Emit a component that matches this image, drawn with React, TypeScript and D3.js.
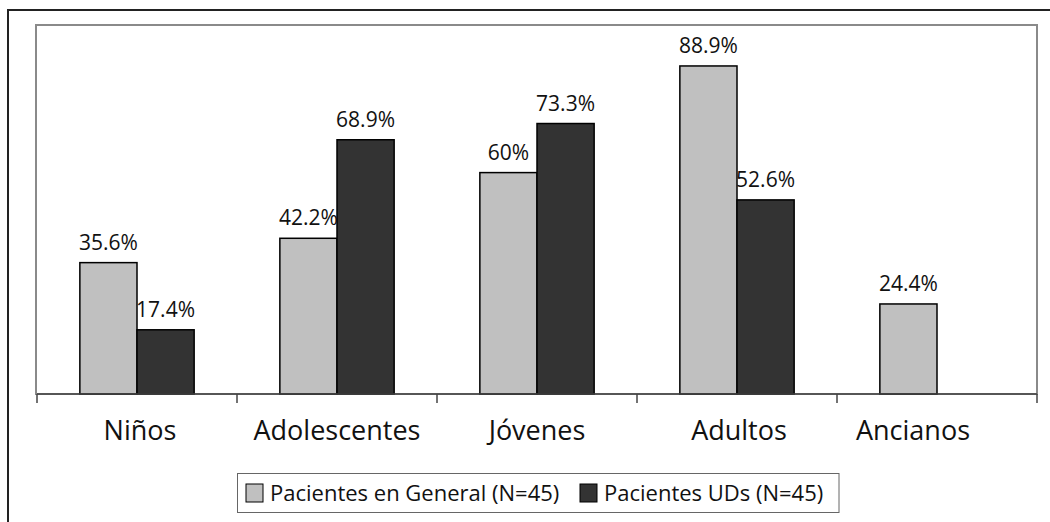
import React from "react";
import * as d3 from "d3";

const categories = ["Niños", "Adolescentes", "Jóvenes", "Adultos", "Ancianos"];
const seriesNames = ["Pacientes en General (N=45)", "Pacientes UDs (N=45)"];
const generalValues: (number | null)[] = [35.6, 42.2, 60, 88.9, 24.4];
const udsValues: (number | null)[] = [17.4, 68.9, 73.3, 52.6, null];
const valueLabels = [
  ["35.6%", "42.2%", "60%", "88.9%", "24.4%"],
  ["17.4%", "68.9%", "73.3%", "52.6%", ""],
];
const seriesColors = ["#c0c0c0", "#333333"];

const W = 1050;
const H = 522;
const plotL = 37;
const plotR = 1037;
const plotT = 25;
const plotB = 394;
const FONT = "'Open Sans', sans-serif";
// horizontal nudge of category labels, as laid out in the reference
const catLabelShift = [3, 0, 0, 2, -24];
const legendItemX = [246, 580];

export default function App() {
  const x = d3.scaleBand<string>().domain(categories).range([plotL, plotR]).paddingInner(0).paddingOuter(0);
  const xi = d3
    .scaleBand<string>()
    .domain(["0", "1"])
    .range([0, x.bandwidth()])
    .paddingInner(0)
    .paddingOuter(0.75);
  const y = d3.scaleLinear().domain([0, 100]).range([plotB, plotT]);
  const series = [generalValues, udsValues];
  const ticks = [...categories.map((c) => x(c)!), plotR];

  return (
    <div style={{ position: "absolute", left: 0, top: 0 }}>
      <svg width={W} height={H} style={{ display: "block", background: "#fff" }}>
        <rect x={8} y={10} width={W + 20} height={H + 20} fill="#fff" stroke="#222" strokeWidth={2} />
        <rect x={plotL - 1} y={plotT} width={plotR - plotL + 1} height={plotB - plotT} fill="#fff" stroke="#8a8a8a" strokeWidth={2} />
        {series.map((vals, si) =>
          vals.map((v, ci) => {
            if (v == null) return null;
            const bx = x(categories[ci])! + xi(String(si))!;
            const by = y(v);
            return (
              <g key={`${si}-${ci}`}>
                <rect
                  x={bx}
                  y={by}
                  width={xi.bandwidth()}
                  height={plotB - by}
                  fill={seriesColors[si]}
                  stroke="#000"
                  strokeWidth={1.5}
                />
                <text
                  x={bx + xi.bandwidth() / 2}
                  y={by - 13}
                  textAnchor="middle"
                  fontFamily={FONT}
                  fontSize={21}
                  fill="#111"
                >
                  {valueLabels[si][ci]}
                </text>
              </g>
            );
          })
        )}
        <line x1={plotL} x2={plotR} y1={plotB} y2={plotB} stroke="#444" strokeWidth={1.5} />
        {ticks.map((t, i) => (
          <line key={i} x1={t} x2={t} y1={plotB} y2={plotB + 9} stroke="#444" strokeWidth={1.5} />
        ))}
        {categories.map((c, i) => (
          <text
            key={c}
            x={x(c)! + x.bandwidth() / 2 + catLabelShift[i]}
            y={440}
            textAnchor="middle"
            fontFamily={FONT}
            fontSize={27}
            fill="#111"
          >
            {c}
          </text>
        ))}
        <rect x={237.5} y={473.5} width={601.5} height={39} fill="#fff" stroke="#666" strokeWidth={1} />
        {seriesNames.map((s, i) => {
          const sx = legendItemX[i];
          return (
            <g key={s}>
              <rect x={sx} y={484} width={17} height={18} fill={seriesColors[i]} stroke="#000" strokeWidth={1} />
              <text x={sx + 24} y={501} fontFamily={FONT} fontSize={22} fill="#111">
                {s}
              </text>
            </g>
          );
        })}
      </svg>
    </div>
  );
}
